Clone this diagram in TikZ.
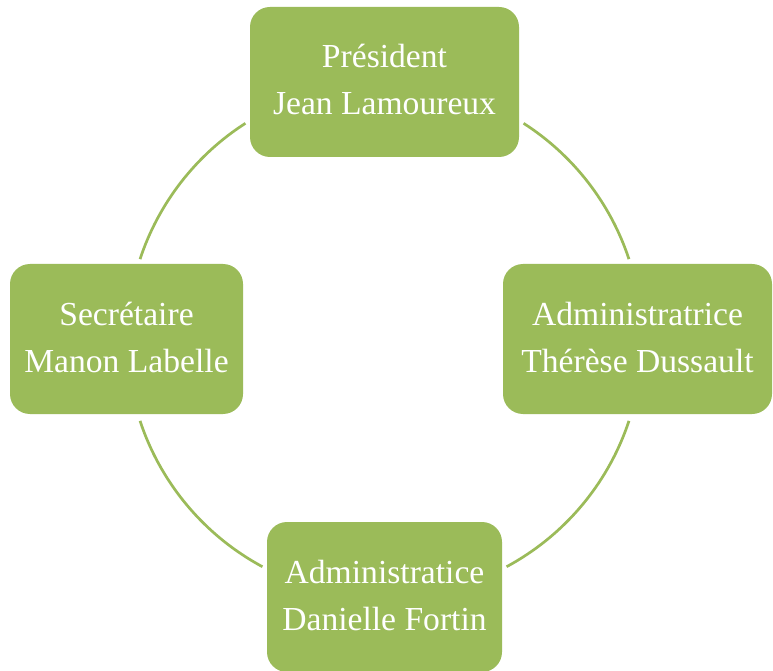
\documentclass[tikz,border=0pt]{standalone}
\usepackage{fontspec}
\setmainfont{Liberation Serif}
\definecolor{boxgreen}{HTML}{9BBB59}
\newcommand{\topline}{\rule{0pt}{34pt}}
\newcommand{\botline}{\rule[-15pt]{0pt}{15pt}}
\tikzset{
  member/.style={draw=none, fill=boxgreen, rounded corners=20pt,
    minimum height=150pt, inner sep=0pt, align=center, text=white,
    font=\fontsize{33.6}{47}\selectfont},
  ring/.style={draw=boxgreen, line width=2.7pt}
}
\begin{document}
\begin{tikzpicture}[x=1pt,y=1pt]
\useasboundingbox (0,0) rectangle (773,670);
\coordinate (c) at (384.5,330);
\node[member, minimum width=269pt] (pres) at (384.5,588) {\topline Président\\Jean Lamoureux\botline};
\node[member, minimum width=233pt] (sec) at (126.5,331) {\topline Secrétaire\\Manon Labelle\botline};
\node[member, minimum width=269pt] (adm1) at (637.5,331) {\topline Administratrice\\Thérèse Dussault\botline};
\node[member, minimum width=235pt] (adm2) at (384.5,73) {\topline Administratice\\Danielle Fortin\botline};
\draw[ring] (c) ++(122.7:257.5) arc[start angle=122.7, end angle=161.7, radius=257.5];
\draw[ring] (c) ++(198.3:257.5) arc[start angle=198.3, end angle=241.7, radius=257.5];
\draw[ring] (c) ++(298.3:257.5) arc[start angle=298.3, end angle=341.7, radius=257.5];
\draw[ring] (c) ++(18.3:257.5) arc[start angle=18.3, end angle=57.3, radius=257.5];
\end{tikzpicture}
\end{document}
